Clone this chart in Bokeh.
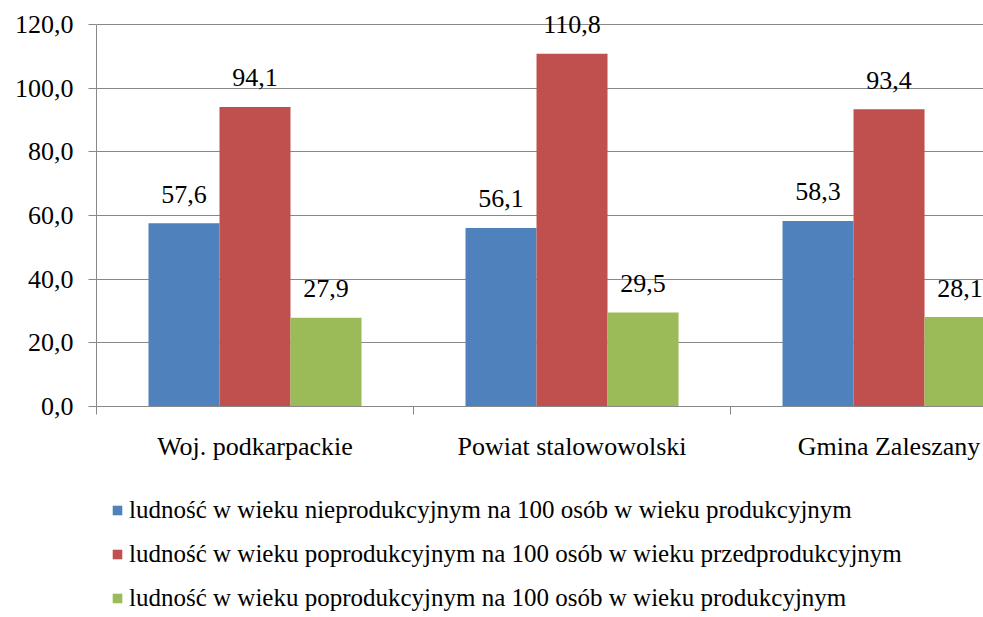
from bokeh.plotting import figure
from bokeh.layouts import column
from bokeh.models import (ColumnDataSource, Range1d, FixedTicker, LabelSet, Legend, LegendItem,
                          LinearAxis, Grid)
from bokeh.transform import dodge
from bokeh.embed import file_html
from bokeh.resources import INLINE

categories = ["Woj. podkarpackie", "Powiat stalowowolski", "Gmina Zaleszany"]
series_names = [
    "ludność w wieku nieprodukcyjnym na 100 osób w wieku produkcyjnym",
    "ludność w wieku poprodukcyjnym na 100 osób w wieku przedprodukcyjnym",
    "ludność w wieku poprodukcyjnym na 100 osób w wieku produkcyjnym",
]
s1 = [57.6, 56.1, 58.3]
s2 = [94.1, 110.8, 93.4]
s3 = [27.9, 29.5, 28.1]
y_ticks = [0, 20, 40, 60, 80, 100, 120]
y_tick_labels = ["0,0", "20,0", "40,0", "60,0", "80,0", "100,0", "120,0"]
colors = ["#4F81BD", "#C0504D", "#9BBB59"]

FONT = "Liberation Serif"
centers = [i + 0.5 for i in range(len(categories))]
series = [s1, s2, s3]

p = figure(width=983, height=480, output_backend="svg", toolbar_location=None,
           x_range=Range1d(0, 2.798), y_range=Range1d(0, 127.54),
           min_border_left=96, min_border_right=0, min_border_top=0, min_border_bottom=74,
           x_axis_type=None, y_axis_type=None)
p.outline_line_color = None

# y axis
yax = LinearAxis(ticker=FixedTicker(ticks=y_ticks, minor_ticks=[]), bounds=(0, 120))
yax.major_label_overrides = {t: l for t, l in zip(y_ticks, y_tick_labels)}
yax.axis_line_color = "#888888"
yax.major_tick_line_color = "#888888"
yax.major_tick_out = 8
yax.major_tick_in = 0
yax.minor_tick_line_color = None
yax.major_label_text_font = FONT
yax.major_label_text_font_size = "26px"
yax.major_label_text_color = "#000000"
yax.major_label_standoff = 15
p.add_layout(yax, "left")

# x axis
xax = LinearAxis(ticker=FixedTicker(ticks=centers, minor_ticks=[0, 1, 2, 3]))
xax.major_label_overrides = {c: n for c, n in zip(centers, categories)}
xax.axis_line_color = "#888888"
xax.major_tick_line_color = None
xax.major_tick_out = 0
xax.major_tick_in = 0
xax.minor_tick_line_color = "#888888"
xax.minor_tick_out = 8
xax.minor_tick_in = 0
xax.major_label_text_font = FONT
xax.major_label_text_font_size = "26px"
xax.major_label_text_color = "#000000"
xax.major_label_standoff = 17
p.add_layout(xax, "below")

grid = Grid(dimension=1, ticker=yax.ticker, grid_line_color="#888888", grid_line_width=1)
p.add_layout(grid)

bw = 0.224
offsets = [-bw, 0.0, bw]
for vals, off, col in zip(series, offsets, colors):
    src = ColumnDataSource(dict(x=centers, top=vals,
                                lab=[f"{v:.1f}".replace(".", ",") for v in vals]))
    p.vbar(x=dodge("x", off), top="top", width=bw, source=src,
           fill_color=col, line_color=None)
    ls = LabelSet(x=dodge("x", off), y="top", text="lab", source=src,
                  text_align="center", text_baseline="middle", y_offset=29,
                  text_font=FONT, text_font_size="26px", text_color="#000000")
    p.add_layout(ls)

# legend figure (its bars lie outside its visible range; only the legend shows)
p2 = figure(width=983, height=137, output_backend="svg", toolbar_location=None,
            min_border_left=96, min_border_right=0, min_border_top=1, min_border_bottom=0,
            x_axis_type=None, y_axis_type=None,
            x_range=Range1d(0, 2.798), y_range=Range1d(1000, 1001))
p2.outline_line_color = None
p2.grid.visible = False
items = []
for vals, off, col, name in zip(series, offsets, colors, series_names):
    r = p2.vbar(x=dodge("x", off), top="top", width=bw,
                source=ColumnDataSource(dict(x=centers, top=vals)),
                fill_color=col, line_color=None)
    items.append(LegendItem(label=name, renderers=[r]))
legend = Legend(items=items, location="top_left", orientation="vertical",
                border_line_color=None, background_fill_alpha=0,
                label_text_font=FONT, label_text_font_size="25px", label_text_color="#000000",
                glyph_width=12, glyph_height=12, label_height=24, spacing=16,
                padding=0, margin=15, label_standoff=6)
p2.add_layout(legend)

layout = column(p, p2, spacing=0)
open("out.html", "w").write(file_html(layout, INLINE))
